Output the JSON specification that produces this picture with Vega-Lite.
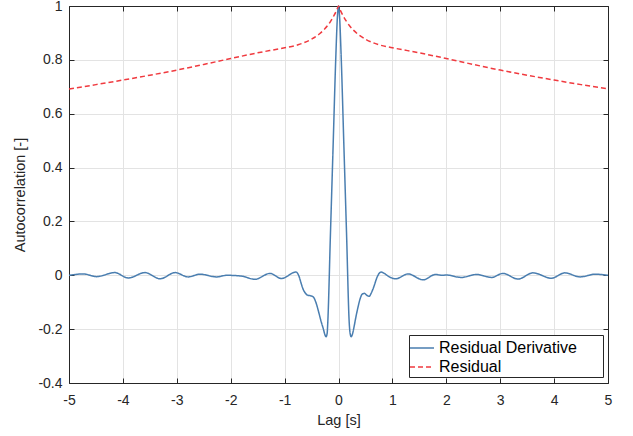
{
  "$schema": "https://vega.github.io/schema/vega-lite/v6.json",
  "width": 539,
  "height": 377,
  "autosize": {"type": "none"},
  "padding": {"left": 69, "top": 6, "right": 25, "bottom": 53},
  "background": "white",
  "config": {
    "font": "Liberation Sans",
    "view": {"stroke": null},
    "axis": {
      "labelFont": "Liberation Sans",
      "titleFont": "Liberation Sans",
      "labelFontSize": 14,
      "titleFontSize": 14.5,
      "titleFontWeight": "normal",
      "labelColor": "#262626",
      "titleColor": "#262626",
      "domainColor": "#262626",
      "tickColor": "#262626",
      "gridColor": "#e3e3e3",
      "gridWidth": 1
    },
    "legend": {
      "labelFont": "Liberation Sans",
      "labelFontSize": 16,
      "labelColor": "#000000",
      "labelLimit": 400,
      "strokeColor": "#262626",
      "fillColor": "white",
      "padding": 2,
      "symbolType": "M-1.2,0H1.2",
      "symbolFillColor": "transparent",
      "symbolStrokeWidth": 1.5,
      "symbolSize": 400,
      "rowPadding": 0,
      "labelOffset": 6
    }
  },
  "data": {
    "values": [
      {"lag": -5.0, "r": 0.0, "series": "Residual Derivative"},
      {"lag": -4.73, "r": 0.005, "series": "Residual Derivative"},
      {"lag": -4.49, "r": -0.005, "series": "Residual Derivative"},
      {"lag": -4.15, "r": 0.01, "series": "Residual Derivative"},
      {"lag": -3.9, "r": -0.01, "series": "Residual Derivative"},
      {"lag": -3.59, "r": 0.01, "series": "Residual Derivative"},
      {"lag": -3.31, "r": -0.013, "series": "Residual Derivative"},
      {"lag": -3.03, "r": 0.01, "series": "Residual Derivative"},
      {"lag": -2.79, "r": -0.006, "series": "Residual Derivative"},
      {"lag": -2.57, "r": 0.004, "series": "Residual Derivative"},
      {"lag": -2.26, "r": -0.006, "series": "Residual Derivative"},
      {"lag": -2.07, "r": 0.0, "series": "Residual Derivative"},
      {"lag": -1.8, "r": -0.003, "series": "Residual Derivative"},
      {"lag": -1.55, "r": -0.015, "series": "Residual Derivative"},
      {"lag": -1.27, "r": 0.007, "series": "Residual Derivative"},
      {"lag": -1.06, "r": -0.012, "series": "Residual Derivative"},
      {"lag": -0.79, "r": 0.012, "series": "Residual Derivative"},
      {"lag": -0.74, "r": 0.0, "series": "Residual Derivative"},
      {"lag": -0.7, "r": -0.025, "series": "Residual Derivative"},
      {"lag": -0.66, "r": -0.05, "series": "Residual Derivative"},
      {"lag": -0.62, "r": -0.065, "series": "Residual Derivative"},
      {"lag": -0.57, "r": -0.074, "series": "Residual Derivative"},
      {"lag": -0.52, "r": -0.076, "series": "Residual Derivative"},
      {"lag": -0.47, "r": -0.08, "series": "Residual Derivative"},
      {"lag": -0.42, "r": -0.1, "series": "Residual Derivative"},
      {"lag": -0.37, "r": -0.135, "series": "Residual Derivative"},
      {"lag": -0.33, "r": -0.166, "series": "Residual Derivative"},
      {"lag": -0.28, "r": -0.2, "series": "Residual Derivative"},
      {"lag": -0.25, "r": -0.222, "series": "Residual Derivative"},
      {"lag": -0.23, "r": -0.228, "series": "Residual Derivative"},
      {"lag": -0.21, "r": -0.215, "series": "Residual Derivative"},
      {"lag": -0.2, "r": -0.18, "series": "Residual Derivative"},
      {"lag": -0.15, "r": 0.15, "series": "Residual Derivative"},
      {"lag": -0.1, "r": 0.48, "series": "Residual Derivative"},
      {"lag": -0.05, "r": 0.81, "series": "Residual Derivative"},
      {"lag": -0.02, "r": 0.96, "series": "Residual Derivative"},
      {"lag": 0.0, "r": 1.0, "series": "Residual Derivative"},
      {"lag": 0.02, "r": 0.96, "series": "Residual Derivative"},
      {"lag": 0.05, "r": 0.81, "series": "Residual Derivative"},
      {"lag": 0.1, "r": 0.48, "series": "Residual Derivative"},
      {"lag": 0.15, "r": 0.15, "series": "Residual Derivative"},
      {"lag": 0.2, "r": -0.18, "series": "Residual Derivative"},
      {"lag": 0.215, "r": -0.215, "series": "Residual Derivative"},
      {"lag": 0.236, "r": -0.228, "series": "Residual Derivative"},
      {"lag": 0.26, "r": -0.218, "series": "Residual Derivative"},
      {"lag": 0.29, "r": -0.19, "series": "Residual Derivative"},
      {"lag": 0.32, "r": -0.158, "series": "Residual Derivative"},
      {"lag": 0.36, "r": -0.12, "series": "Residual Derivative"},
      {"lag": 0.4, "r": -0.088, "series": "Residual Derivative"},
      {"lag": 0.44, "r": -0.07, "series": "Residual Derivative"},
      {"lag": 0.48, "r": -0.067, "series": "Residual Derivative"},
      {"lag": 0.53, "r": -0.075, "series": "Residual Derivative"},
      {"lag": 0.57, "r": -0.078, "series": "Residual Derivative"},
      {"lag": 0.61, "r": -0.065, "series": "Residual Derivative"},
      {"lag": 0.66, "r": -0.04, "series": "Residual Derivative"},
      {"lag": 0.71, "r": -0.01, "series": "Residual Derivative"},
      {"lag": 0.75, "r": 0.006, "series": "Residual Derivative"},
      {"lag": 0.79, "r": 0.012, "series": "Residual Derivative"},
      {"lag": 0.85, "r": 0.007, "series": "Residual Derivative"},
      {"lag": 0.92, "r": -0.003, "series": "Residual Derivative"},
      {"lag": 1.06, "r": -0.013, "series": "Residual Derivative"},
      {"lag": 1.29, "r": 0.005, "series": "Residual Derivative"},
      {"lag": 1.57, "r": -0.017, "series": "Residual Derivative"},
      {"lag": 1.8, "r": 0.003, "series": "Residual Derivative"},
      {"lag": 1.92, "r": 0.0, "series": "Residual Derivative"},
      {"lag": 2.0, "r": 0.001, "series": "Residual Derivative"},
      {"lag": 2.28, "r": -0.008, "series": "Residual Derivative"},
      {"lag": 2.56, "r": 0.003, "series": "Residual Derivative"},
      {"lag": 2.84, "r": -0.008, "series": "Residual Derivative"},
      {"lag": 3.05, "r": 0.007, "series": "Residual Derivative"},
      {"lag": 3.33, "r": -0.014, "series": "Residual Derivative"},
      {"lag": 3.61, "r": 0.009, "series": "Residual Derivative"},
      {"lag": 3.95, "r": -0.011, "series": "Residual Derivative"},
      {"lag": 4.2, "r": 0.009, "series": "Residual Derivative"},
      {"lag": 4.48, "r": -0.006, "series": "Residual Derivative"},
      {"lag": 4.76, "r": 0.004, "series": "Residual Derivative"},
      {"lag": 5.0, "r": 0.0, "series": "Residual Derivative"},
      {"lag": -5.0, "r": 0.692, "series": "Residual"},
      {"lag": -4.5, "r": 0.708, "series": "Residual"},
      {"lag": -4.0, "r": 0.725, "series": "Residual"},
      {"lag": -3.5, "r": 0.743, "series": "Residual"},
      {"lag": -3.0, "r": 0.762, "series": "Residual"},
      {"lag": -2.5, "r": 0.783, "series": "Residual"},
      {"lag": -2.0, "r": 0.805, "series": "Residual"},
      {"lag": -1.5, "r": 0.826, "series": "Residual"},
      {"lag": -1.0, "r": 0.845, "series": "Residual"},
      {"lag": -0.75, "r": 0.856, "series": "Residual"},
      {"lag": -0.5, "r": 0.877, "series": "Residual"},
      {"lag": -0.35, "r": 0.897, "series": "Residual"},
      {"lag": -0.25, "r": 0.916, "series": "Residual"},
      {"lag": -0.15, "r": 0.942, "series": "Residual"},
      {"lag": -0.08, "r": 0.966, "series": "Residual"},
      {"lag": -0.03, "r": 0.986, "series": "Residual"},
      {"lag": 0.0, "r": 1.0, "series": "Residual"},
      {"lag": 0.03, "r": 0.986, "series": "Residual"},
      {"lag": 0.08, "r": 0.966, "series": "Residual"},
      {"lag": 0.15, "r": 0.942, "series": "Residual"},
      {"lag": 0.25, "r": 0.916, "series": "Residual"},
      {"lag": 0.35, "r": 0.897, "series": "Residual"},
      {"lag": 0.5, "r": 0.877, "series": "Residual"},
      {"lag": 0.75, "r": 0.856, "series": "Residual"},
      {"lag": 1.0, "r": 0.845, "series": "Residual"},
      {"lag": 1.5, "r": 0.826, "series": "Residual"},
      {"lag": 2.0, "r": 0.805, "series": "Residual"},
      {"lag": 2.5, "r": 0.783, "series": "Residual"},
      {"lag": 3.0, "r": 0.762, "series": "Residual"},
      {"lag": 3.5, "r": 0.743, "series": "Residual"},
      {"lag": 4.0, "r": 0.725, "series": "Residual"},
      {"lag": 4.5, "r": 0.708, "series": "Residual"},
      {"lag": 5.0, "r": 0.692, "series": "Residual"}
    ]
  },
  "layer": [
    {
      "mark": {"type": "line", "interpolate": "monotone", "strokeWidth": 1.5},
      "encoding": {
        "x": {
          "field": "lag", "type": "quantitative",
          "scale": {"domain": [-5, 5], "nice": false, "zero": false},
          "axis": {"orient": "bottom", "title": "Lag [s]", "values": [-5, -4, -3, -2, -1, 0, 1, 2, 3, 4, 5],
                   "labelExpr": "'' + datum.value", "tickSize": -5, "labelPadding": 15, "titlePadding": 6, "grid": true, "labelFlush": false}
        },
        "y": {
          "field": "r", "type": "quantitative",
          "scale": {"domain": [-0.4, 1], "nice": false, "zero": false},
          "axis": {"orient": "left", "title": "Autocorrelation [-]", "values": [-0.4, -0.2, 0, 0.2, 0.4, 0.6, 0.8, 1],
                   "labelExpr": "'' + datum.value", "tickSize": -5, "labelPadding": 12, "titlePadding": 10, "grid": true, "labelFlush": false}
        },
        "color": {
          "field": "series", "type": "nominal",
          "scale": {"domain": ["Residual Derivative", "Residual"], "range": ["#4a7eb0", "#f03a3f"]},
          "legend": {"title": null, "orient": "none", "legendX": 340, "legendY": 329,
                     "labelExpr": "datum.label + '\u2800\u2800'"}
        },
        "strokeDash": {
          "field": "series", "type": "nominal",
          "scale": {"domain": ["Residual Derivative", "Residual"], "range": [[1, 0], [5, 3]]},
          "legend": {"title": null, "orient": "none", "legendX": 340, "legendY": 329,
                     "labelExpr": "datum.label + '\u2800\u2800'"}
        }
      }
    },
    {
      "mark": {"type": "line", "opacity": 0},
      "encoding": {
        "x": {
          "field": "lag", "type": "quantitative",
          "scale": {"domain": [-5, 5], "nice": false, "zero": false},
          "axis": {"orient": "top", "title": null, "labels": false, "values": [-5, -4, -3, -2, -1, 0, 1, 2, 3, 4, 5], "tickSize": -5, "grid": false}
        },
        "y": {
          "field": "r", "type": "quantitative",
          "scale": {"domain": [-0.4, 1], "nice": false, "zero": false},
          "axis": {"orient": "right", "title": null, "labels": false, "values": [-0.4, -0.2, 0, 0.2, 0.4, 0.6, 0.8, 1], "tickSize": -5, "grid": false}
        }
      }
    }
  ],
  "resolve": {"axis": {"x": "independent", "y": "independent"}}
}
